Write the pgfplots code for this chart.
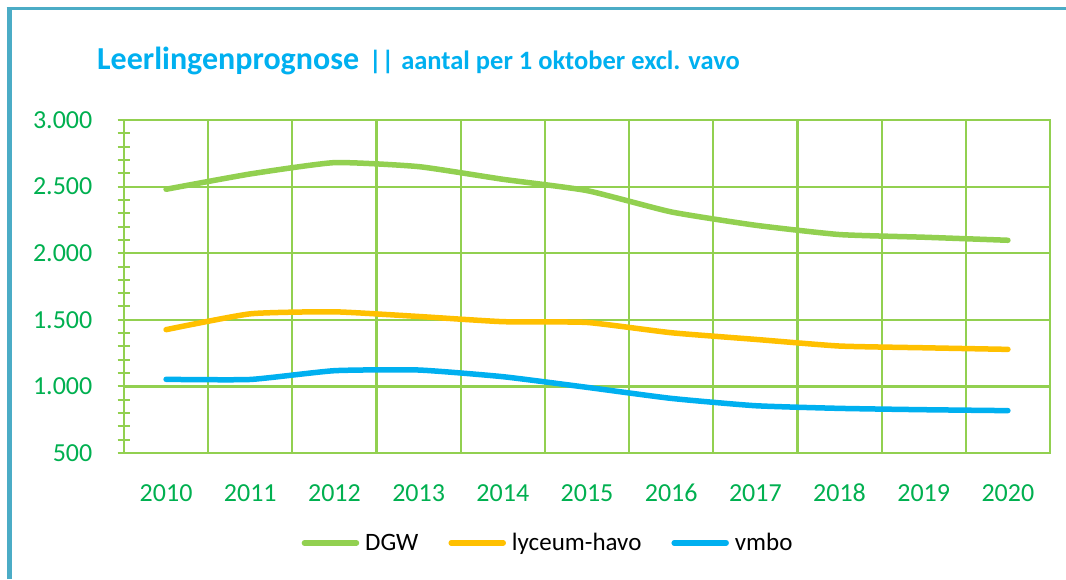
\documentclass[border=0pt]{standalone}
\usepackage{fontspec}
\setmainfont{Carlito}
\usepackage{pgfplots}
\pgfplotsset{compat=1.18}
\definecolor{dgw}{HTML}{92D050}
\definecolor{lyc}{HTML}{FFC000}
\definecolor{vmbo}{HTML}{00B0F0}
\definecolor{framec}{HTML}{4BACC6}
\definecolor{ticktext}{HTML}{00B050}
\definecolor{gridc}{HTML}{92D050}
\begin{document}
\begin{tikzpicture}
\useasboundingbox (0pt,0pt) rectangle (1066pt,579pt);
\fill[white] (0pt,0pt) rectangle (1066pt,579pt);
\draw[framec, line width=5pt] (9pt,0pt) -- (9pt,570.5pt);
\draw[framec, line width=3.5pt] (6.5pt,570.25pt) -- (1066pt,570.25pt);
\node[anchor=base west, text=vmbo, inner sep=0pt] at (97pt,509.5pt) {\fontsize{32}{38}\selectfont\bfseries Leerlingenprognose\hspace{10pt}\fontsize{26.5}{30}\selectfont ||\hspace{7pt}aantal per 1 oktober excl. vavo};
\begin{axis}[
  at={(124pt,126pt)}, anchor=south west,
  scale only axis, width=926pt, height=333pt,
  xmin=-0.5, xmax=10.5, ymin=500, ymax=3000,
  xtick={0,...,10},
  xticklabels={2010,2011,2012,2013,2014,2015,2016,2017,2018,2019,2020},
  minor xtick={-0.5,0.5,1.5,2.5,3.5,4.5,5.5,6.5,7.5,8.5,9.5,10.5},
  xminorgrids=true,
  x tick style={draw=none},
  ytick={500,1000,1500,2000,2500,3000},
  minor y tick num=4,
  ymajorgrids=true,
  ytick pos=left,
  tick align=center,
  major tick length=13pt, minor tick length=13pt,
  y tick style={gridc, line width=2pt},
  grid style={gridc, line width=2.2pt},
  minor grid style={gridc, line width=2.2pt},
  axis line style={gridc, line width=2.6pt},
  /pgf/number format/assume math mode=true,
  /pgf/number format/.cd, use comma, 1000 sep={.}, /pgfplots/.cd,
  tick label style={font=\fontsize{26}{30}\selectfont, text=ticktext, inner sep=0pt},
  xticklabel style={anchor=base, yshift=-42pt},
  yticklabel style={anchor=east, xshift=-25pt},
  legend columns=3,
  legend style={at={(0.458,-0.27)}, anchor=center, draw=none, fill=none,
    font=\fontsize{25}{30}\selectfont, column sep=4pt,
    /tikz/every even column/.append style={column sep=28pt}},
  legend image code/.code={\draw[#1, line cap=round] (0pt,0pt) -- (52pt,0pt);},
  every axis plot/.append style={line width=5.5pt, line cap=round, smooth, tension=0.3, mark=none},
]
\addplot[dgw] coordinates {(0,2480) (1,2595) (2,2680) (3,2650) (4,2555) (5,2470) (6,2310) (7,2210) (8,2140) (9,2120) (10,2097)};
\addlegendentry{DGW}
\addplot[lyc] coordinates {(0,1426) (1,1545) (2,1560) (3,1525) (4,1486) (5,1480) (6,1403) (7,1353) (8,1303) (9,1290) (10,1278)};
\addlegendentry{lyceum-havo}
\addplot[vmbo] coordinates {(0,1053) (1,1052) (2,1118) (3,1123) (4,1073) (5,993) (6,910) (7,855) (8,835) (9,825) (10,818)};
\addlegendentry{vmbo}
\end{axis}
\end{tikzpicture}
\end{document}
